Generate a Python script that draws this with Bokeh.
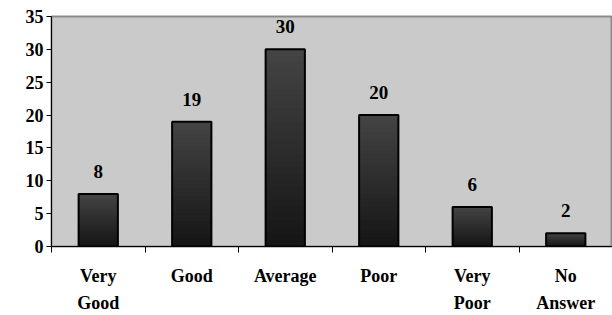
from bokeh.plotting import figure
from bokeh.models import Range1d, FixedTicker, ColumnDataSource, LabelSet
from bokeh.embed import file_html
from bokeh.resources import INLINE

categories = ["Very\nGood", "Good", "Average", "Poor", "Very\nPoor", "No\nAnswer"]
values = [8, 19, 30, 20, 6, 2]
y_ticks = [0, 5, 10, 15, 20, 25, 30, 35]

FONT = "Liberation Serif"
n = len(categories)
centers = [i + 0.5 for i in range(n)]

p = figure(frame_width=561, frame_height=230, output_backend="svg", toolbar_location=None,
           x_range=Range1d(0, n), y_range=Range1d(0, 35),
           min_border_left=51, min_border_right=0, min_border_top=16, min_border_bottom=10)
p.background_fill_color = "#cacaca"
p.border_fill_color = "white"
p.outline_line_color = "#8a8a8a"
p.outline_line_width = 2
p.grid.visible = False

N = 30
xs, tops, cols = [], [], []
for c, v in zip(centers, values):
    for k in range(N - 1, -1, -1):
        xs.append(c)
        tops.append(v * (k + 1) / N)
        t = k / (N - 1)
        g = int(0x16 + (0x44 - 0x16) * t)
        cols.append("#%02x%02x%02x" % (g, g, g))
p.vbar(x=xs, top=tops, bottom=0, width=0.42, fill_color=cols, line_color=None)
p.vbar(x=centers, top=values, width=0.42, fill_alpha=0, line_color="black", line_width=2)

src = ColumnDataSource(dict(x=centers, y=values, t=[str(v) for v in values]))
p.add_layout(LabelSet(x="x", y="y", text="t", source=src, y_offset=16,
                      text_align="center", text_baseline="bottom",
                      text_font=FONT, text_font_style="bold", text_font_size="19px",
                      text_color="black"))

ya = p.yaxis[0]
ya.ticker = FixedTicker(ticks=y_ticks)
ya.axis_line_color = "black"
ya.major_tick_in = 0
ya.major_tick_out = 5
ya.minor_tick_out = 0
ya.minor_tick_in = 0
ya.major_label_standoff = 3
ya.major_label_text_font = FONT
ya.major_label_text_font_style = "bold"
ya.major_label_text_font_size = "18px"
ya.major_label_text_color = "black"

xa = p.xaxis[0]
xa.ticker = FixedTicker(ticks=centers, minor_ticks=list(range(n + 1)))
xa.major_label_overrides = {c: lab for c, lab in zip(centers, categories)}
xa.axis_line_color = "black"
xa.major_tick_in = 0
xa.major_tick_out = 0
xa.minor_tick_in = 0
xa.minor_tick_out = 6
xa.minor_tick_line_color = "black"
xa.major_label_standoff = 13
xa.major_label_text_font = FONT
xa.major_label_text_font_style = "bold"
xa.major_label_text_font_size = "18px"
xa.major_label_text_color = "black"
xa.major_label_text_line_height = 1.38

open("out.html", "w").write(file_html(p, INLINE))
